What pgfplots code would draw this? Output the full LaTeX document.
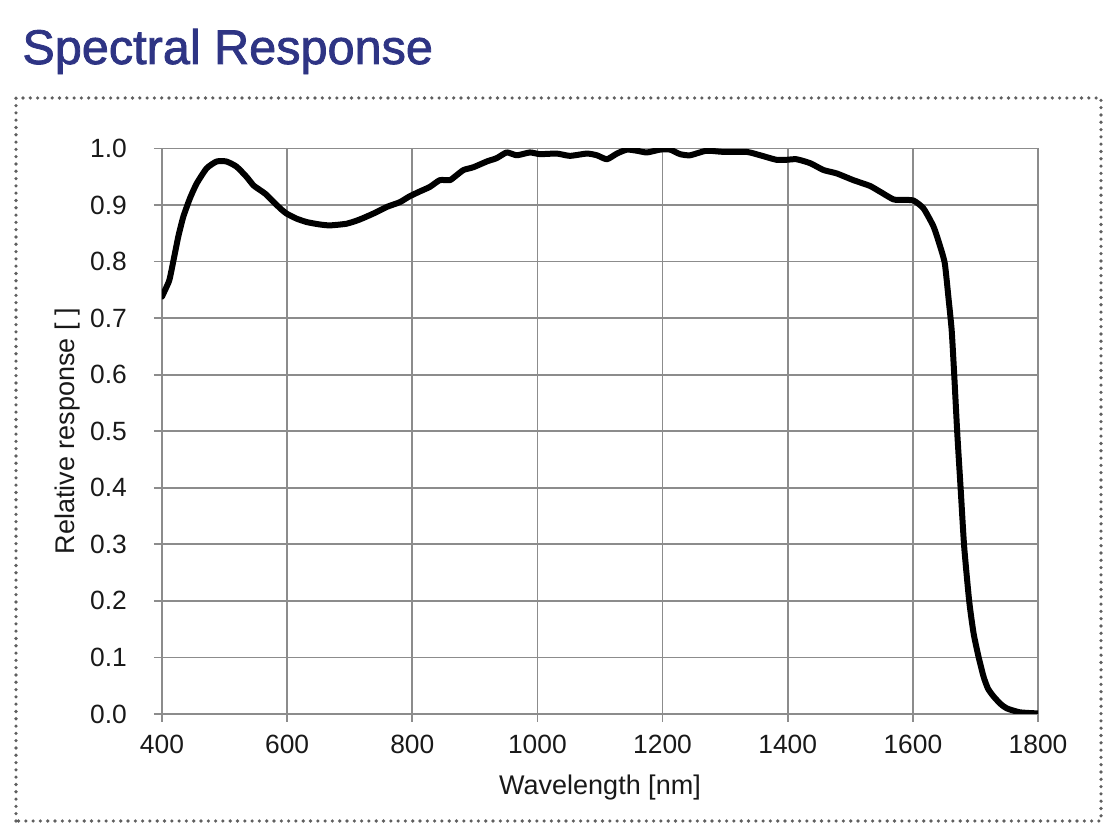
\documentclass[border=0pt]{standalone}
\usepackage{fontspec}
\setmainfont{Liberation Sans}
\newfontfamily\titlefont[FakeBold=1.6]{Liberation Sans}
\usepackage{pgfplots}
\pgfplotsset{compat=1.18}
\definecolor{titleblue}{RGB}{46,52,132}
\definecolor{gridgray}{RGB}{140,140,140}
\definecolor{dotgray}{RGB}{95,95,95}
\begin{document}
\begin{tikzpicture}
\path[use as bounding box] (0,0) rectangle (559.5pt,414.5pt);
\draw[dotgray, line width=1.8pt, line cap=round, dash pattern=on 0pt off 3.65pt]
  (8pt,4pt) rectangle (550.5pt,365.5pt);
\node[anchor=base west, inner sep=0pt, text=titleblue, font=\titlefont\fontsize{24.3}{28}\selectfont] at (11pt,382.5pt) {Spectral Response};
\begin{axis}[
  at={(81pt,57.5pt)}, anchor=origin,
  scale only axis, width=438pt, height=282.75pt,
  xmin=400, xmax=1800, ymin=0, ymax=1,
  xtick={400,600,...,1800},
  ytick={0,0.1,...,1.0},
  tick pos=left, tick align=outside, major tick length=4pt,
  every tick/.style={gridgray, line width=0.9pt},
  grid=major, grid style={gridgray, line width=0.9pt},
  axis line style={gridgray, line width=0.9pt},
  /pgf/number format/assume math mode=true,
  ticklabel style={font=\fontsize{13.2}{15}\selectfont, text=black!90},
  yticklabel style={xshift=-10pt, /pgf/number format/.cd, fixed, fixed zerofill, precision=1},
  xticklabel style={yshift=-3pt, /pgf/number format/.cd, set thousands separator={}},
  xlabel={Wavelength [nm]}, ylabel={Relative response [ ]},
  label style={font=\fontsize{13.5}{16}\selectfont, text=black!90},
  xlabel style={at={(axis description cs:0.5,0)}, anchor=base, yshift=-40.5pt},
  ylabel style={at={(axis description cs:0,0.5)}, anchor=center, yshift=47pt},
]
\addplot[black, line width=3pt, line join=round, line cap=round, smooth, tension=0.35] coordinates {
(400,0.738) (405,0.750) (411.7,0.767) (418,0.800) (426,0.844) (434,0.879)
(444.7,0.912) (455.4,0.938) (471.4,0.965) (487.4,0.977) (503,0.977)
(519,0.968) (535,0.950) (546,0.935) (556,0.927) (565,0.920) (577,0.907)
(589,0.894) (599,0.885) (615,0.876) (631,0.870) (650,0.866) (668,0.864)
(695,0.867) (715,0.874) (738,0.885) (760,0.897) (780,0.905) (795,0.915)
(812,0.924) (828,0.932) (844,0.944) (860,0.944) (870,0.952) (882,0.962)
(898,0.967) (919,0.977) (935,0.983) (951,0.993) (967,0.988) (988,0.993)
(1004,0.990) (1031,0.991) (1052,0.987) (1079,0.991) (1095,0.988)
(1111,0.981) (1127,0.991) (1143,0.998) (1159,0.996) (1175,0.993)
(1196,0.998) (1212,0.998) (1228,0.990) (1244,0.988) (1270,0.996)
(1297,0.994) (1334,0.994) (1356,0.988) (1382,0.980) (1398,0.980)
(1414,0.981) (1436,0.974) (1457,0.962) (1478,0.956) (1505,0.944)
(1531,0.934) (1547,0.924) (1569,0.910) (1585,0.909) (1601,0.908)
(1617,0.894) (1633,0.862) (1643,0.829) (1651,0.797) (1657,0.735)
(1662,0.679) (1666,0.602) (1671,0.496) (1676.5,0.396) (1682,0.296)
(1690,0.200) (1697,0.143) (1705,0.101) (1713,0.066) (1720,0.045)
(1729,0.031) (1740,0.018) (1750,0.010) (1771,0.003) (1800,0.001)
};
\end{axis}
\end{tikzpicture}
\end{document}
